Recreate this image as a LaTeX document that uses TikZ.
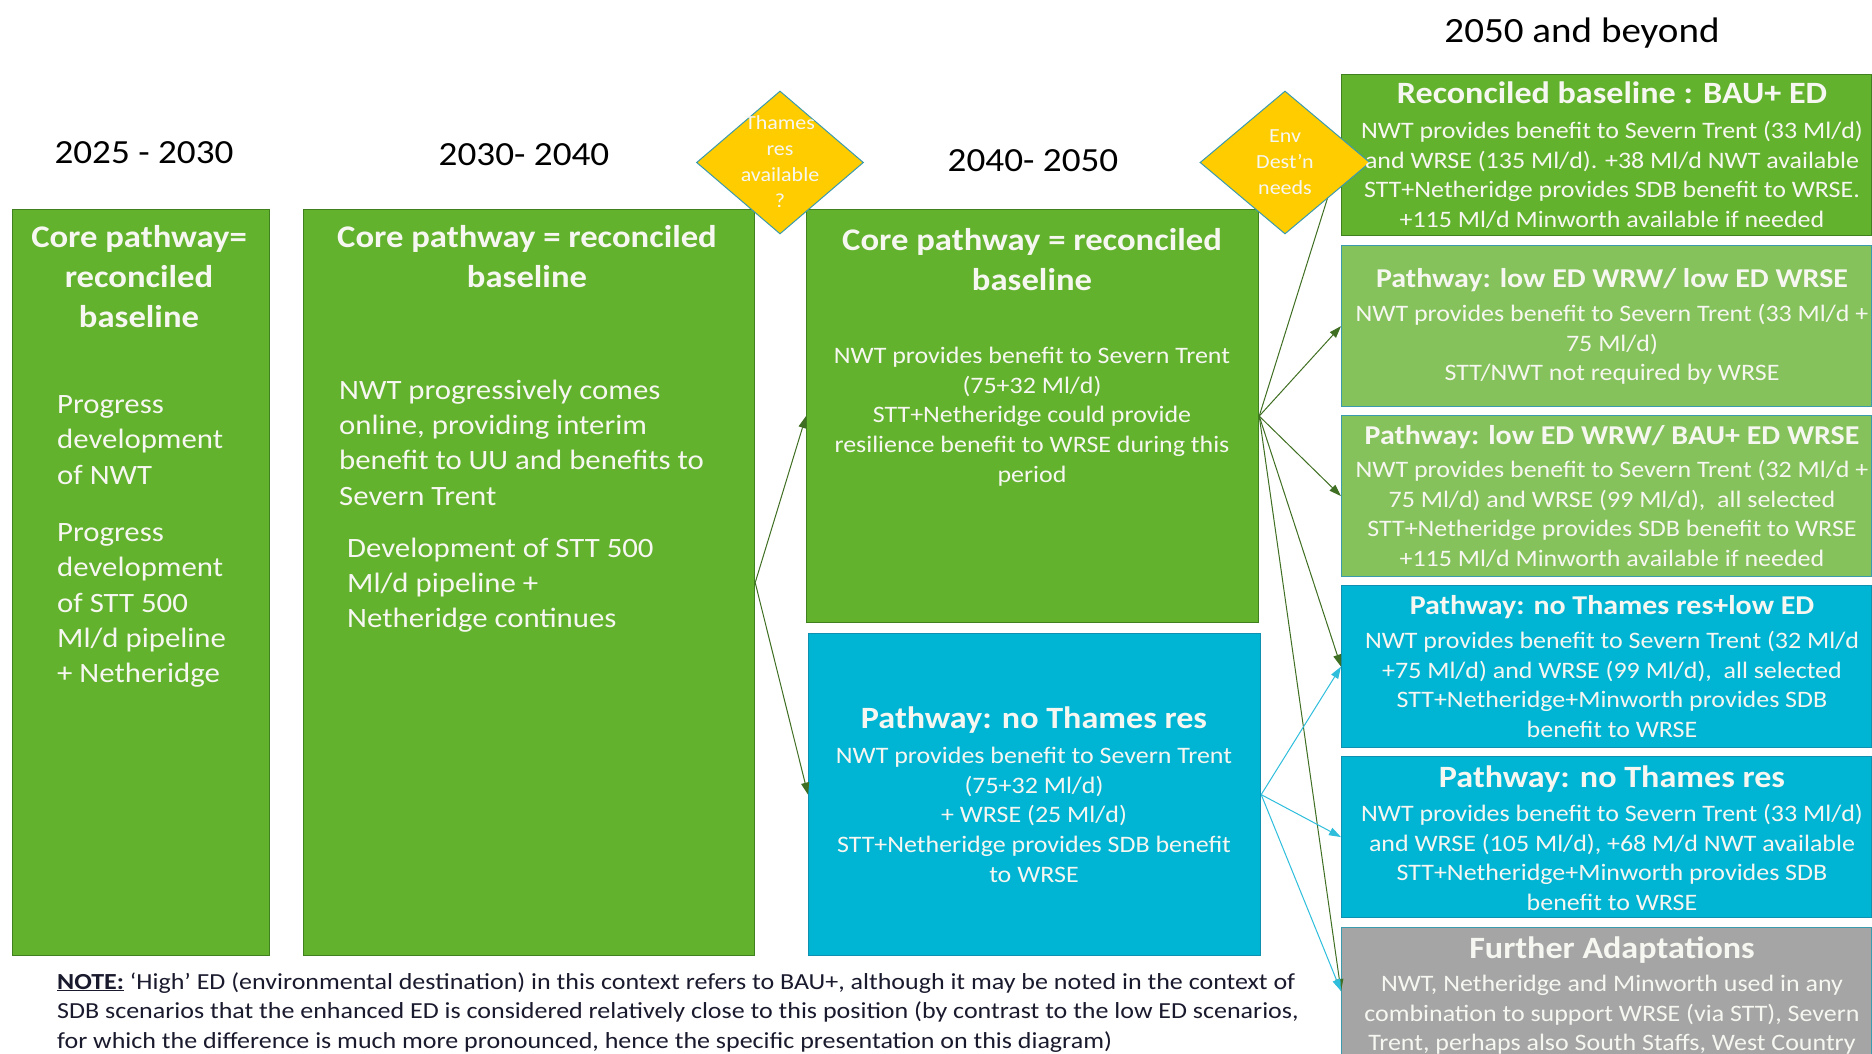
\documentclass[tikz,border=0pt]{standalone}
\usepackage{fontspec}
\setmainfont{Carlito}[FakeStretch=1.1]
\newfontfamily\notefont{Carlito}[FakeStretch=1.13]
\usetikzlibrary{shapes.geometric,arrows.meta}

\definecolor{cgreen}{HTML}{63B22E}
\definecolor{cgreenb}{HTML}{41801F}
\definecolor{clight}{HTML}{85C25B}
\definecolor{cteal}{HTML}{3A9AAE}
\definecolor{cblue}{HTML}{00B4D4}
\definecolor{cblueb}{HTML}{1090B0}
\definecolor{cgrey}{HTML}{A5A5A5}
\definecolor{cyellow}{HTML}{FFCC00}
\definecolor{cgarrow}{HTML}{3F6F22}
\definecolor{cbarrow}{HTML}{2EBEDC}
\definecolor{cnote}{HTML}{1A1A2E}
\definecolor{ctext}{HTML}{F7F7F2}

\tikzset{
  box/.style={draw, line width=1.2pt, inner sep=0pt, anchor=north west},
  gbox/.style={box, fill=cgreen, draw=cgreenb},
  lbox/.style={box, fill=clight, draw=cteal},
  bbox/.style={box, fill=cblue, draw=cblueb},
  greybox/.style={box, fill=cgrey, draw=cteal},
  dia/.style={diamond, draw=cteal, line width=1pt, fill=cyellow, inner sep=0pt},
  diatext/.style={text=ctext, align=center, inner sep=0pt, font=\fontsize{20}{26}\selectfont},
  year/.style={text=black, inner sep=0pt, font=\fontsize{35.5}{40}\selectfont},
  numyear/.style={year, font=\fontsize{33.8}{40}\selectfont},
  bigttl/.style={text=ctext, align=center, inner sep=0pt, anchor=north, font=\bfseries\fontsize{31.5}{40}\selectfont},
  bigbody/.style={text=ctext, align=left, inner sep=0pt, anchor=north west, font=\fontsize{28}{35.3}\selectfont},
  ttl/.style={text=ctext, align=center, inner sep=0pt, anchor=north, font=\bfseries\fontsize{31}{35}\selectfont},
  sttl/.style={ttl, font=\bfseries\fontsize{27.2}{35}\selectfont},
  body/.style={text=ctext, align=center, inner sep=0pt, anchor=north, font=\fontsize{23.6}{29.7}\selectfont},
  garrow/.style={draw=cgarrow, line width=1pt, -{Triangle[length=12pt,width=8pt]}},
  barrow/.style={draw=cbarrow, line width=1pt, -{Triangle[length=12pt,width=8pt]}},
}

\begin{document}
\begin{tikzpicture}[x=1pt,y=-1pt]
\path[use as bounding box, fill=white] (0,0) rectangle (1872,1054);
\clip (0,0) rectangle (1872,1054);

% period headings
\node[numyear] (y1) at (144,152.5) {2025 - 2030};
\node[numyear] (y2) at (524,154.5) {2030- 2040};
\node[numyear] (y3) at (1033,160.5) {2040- 2050};
\node[year] (y4) at (1582,33) {2050 and beyond};

% 2025-2030 column
\node[gbox, minimum width=257pt, minimum height=746pt] (b1) at (12,209) {};
\node[bigttl] (b1t) at (139,225) {Core pathway=\\reconciled\\baseline};
\node[bigbody] (b1a) at (57,395.5) {Progress\\development\\of NWT};
\node[bigbody] (b1b) at (57,523.5) {Progress\\development\\of STT 500\\Ml/d pipeline\\+ Netheridge};

% 2030-2040 column
\node[gbox, minimum width=451pt, minimum height=746pt] (b2) at (303,209) {};
\node[bigttl] (b2t) at (527,225) {Core pathway = reconciled\\baseline};
\node[bigbody] (b2a) at (339,379.5) {NWT progressively comes\\online, providing interim\\benefit to UU and benefits to\\Severn Trent};
\node[bigbody] (b2b) at (347,537.5) {Development of STT 500\\Ml/d pipeline +\\Netheridge continues};

% 2040-2050 column
\node[gbox, minimum width=452pt, minimum height=413pt] (b3) at (806,209) {};
\node[bigttl] (b3t) at (1032,228.5) {Core pathway = reconciled\\baseline};
\node[body] (b3a) at (1032,347) {NWT provides benefit to Severn Trent\\(75+32 Ml/d)\\STT+Netheridge could provide\\resilience benefit to WRSE during this\\period};

\node[bbox, minimum width=452pt, minimum height=322pt] (bt) at (808,633) {};
\node[ttl] (btt) at (1034,707) {Pathway: no Thames res};
\node[body] (bta) at (1034,747) {NWT provides benefit to Severn Trent\\(75+32 Ml/d)\\+ WRSE (25 Ml/d)\\STT+Netheridge provides SDB benefit\\to WRSE};

% 2050 and beyond column
\node[gbox, minimum width=530pt, minimum height=161pt] (r1) at (1341,74) {};
\node[lbox, minimum width=530pt, minimum height=161pt] (r2) at (1341,245) {};
\node[lbox, minimum width=530pt, minimum height=161pt] (r3) at (1341,415) {};
\node[bbox, minimum width=530pt, minimum height=162pt] (r4) at (1341,585) {};
\node[bbox, minimum width=530pt, minimum height=161pt] (r5) at (1341,756) {};
\node[greybox, minimum width=530pt, minimum height=127pt] (r6) at (1341,927) {};

% connectors
\draw[garrow] (b2.east) -- (b3.west);
\draw[garrow] (b2.east) -- (bt.west);
\draw[garrow] (b3.east) -- (r1.west);
\draw[garrow] (b3.east) -- (r2.west);
\draw[garrow] (b3.east) -- (r3.west);
\draw[garrow] (b3.east) -- (r4.west);
\draw[garrow] (b3.east) -- (r6.west);
\draw[barrow] (bt.east) -- (r4.west);
\draw[barrow] (bt.east) -- (r5.west);
\draw[barrow] (bt.east) -- (r6.west);

% decision points
\node[dia, minimum width=167pt, minimum height=143pt] (d1) at (780,162.5) {};
\node[diatext] (d1t) at (780,162) {Thames\\res\\available\\?};
\node[dia, minimum width=170pt, minimum height=143pt] (d2) at (1285,162.5) {};
\node[diatext] (d2t) at (1285,162) {Env\\Dest’n\\needs};

% texts of the 2050 boxes
\node[ttl] (r1t) at (1612,82) {Reconciled baseline : BAU+ ED};
\node[body] (r1a) at (1612,121) {NWT provides benefit to Severn Trent (33 Ml/d)\\and WRSE (135 Ml/d). +38 Ml/d NWT available\\STT+Netheridge provides SDB benefit to WRSE.\\+115 Ml/d Minworth available if needed};
\node[sttl] (r2t) at (1612,268) {Pathway: low ED WRW/ low ED WRSE};
\node[body] (r2a) at (1612,304) {NWT provides benefit to Severn Trent (33 Ml/d +\\75 Ml/d)\\STT/NWT not required by WRSE};
\node[sttl] (r3t) at (1612,425) {Pathway: low ED WRW/ BAU+ ED WRSE};
\node[body] (r3a) at (1612,460) {NWT provides benefit to Severn Trent (32 Ml/d +\\75 Ml/d) and WRSE (99 Ml/d),\ \ all selected\\STT+Netheridge provides SDB benefit to WRSE\\+115 Ml/d Minworth available if needed};
\node[sttl] (r4t) at (1612,595) {Pathway: no Thames res+low ED};
\node[body] (r4a) at (1612,631) {NWT provides benefit to Severn Trent (32 Ml/d\\+75 Ml/d) and WRSE (99 Ml/d),\ \ all selected\\STT+Netheridge+Minworth provides SDB\\benefit to WRSE};
\node[ttl] (r5t) at (1612,765.5) {Pathway: no Thames res};
\node[body] (r5a) at (1612,804) {NWT provides benefit to Severn Trent (33 Ml/d)\\and WRSE (105 Ml/d), +68 M/d NWT available\\STT+Netheridge+Minworth provides SDB\\benefit to WRSE};
\node[ttl] (r6t) at (1612,936.5) {Further Adaptations};
\node[body] (r6a) at (1612,975) {NWT, Netheridge and Minworth used in any\\combination to support WRSE (via STT), Severn\\Trent, perhaps also South Staffs, West Country};

% footnote
\node[text=cnote, align=left, inner sep=0pt, anchor=north west, font=\notefont\fontsize{23}{29.5}\selectfont] (note) at (57,972)
  {\underline{\textbf{NOTE:}} ‘High’ ED (environmental destination) in this context refers to BAU+, although it may be noted in the context of\\
   SDB scenarios that the enhanced ED is considered relatively close to this position (by contrast to the low ED scenarios,\\
   for which the difference is much more pronounced, hence the specific presentation on this diagram)};
\end{tikzpicture}
\end{document}
